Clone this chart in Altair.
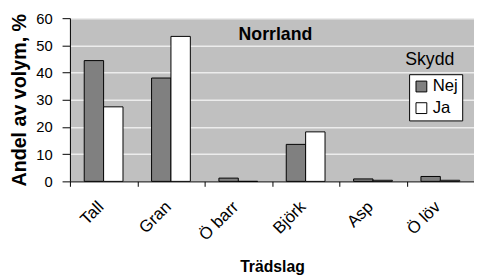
import altair as alt
import pandas as pd

categories = ["Tall", "Gran", "Ö barr", "Björk", "Asp", "Ö löv"]
nej = [44.4, 38.0, 1.2, 13.6, 0.9, 1.8]
ja = [27.4, 53.3, 0.0, 18.2, 0.4, 0.4]
groups = ["Nej", "Ja"]

rows = []
for c, a, b in zip(categories, nej, ja):
    rows.append({"Trädslag": c, "Skydd": "Nej", "v": a})
    rows.append({"Trädslag": c, "Skydd": "Ja", "v": b})
df = pd.DataFrame(rows)

FONT = "Liberation Sans, Arial, sans-serif"

bars = alt.Chart(df).mark_bar(stroke="black", strokeWidth=1).encode(
    x=alt.X("Trädslag:N", sort=categories,
            scale=alt.Scale(paddingInner=0, paddingOuter=0),
            axis=alt.Axis(title="Trädslag", labelAngle=-45, labelAlign="right",
                          labelBaseline="middle", labelFontSize=17, labelFont=FONT,
                          labelColor="black", titleFont=FONT, titleFontSize=16,
                          titleFontWeight="bold", titleColor="black", titlePadding=16,
                          tickBand="extent", tickColor="black", tickSize=5,
                          domainColor="black", labelPadding=18, labelOffset=-3,
                          grid=False)),
    xOffset=alt.XOffset("Skydd:N", sort=groups,
                        scale=alt.Scale(paddingInner=0, paddingOuter=0.7375)),
    y=alt.Y("v:Q", scale=alt.Scale(domain=[0, 60]),
            axis=alt.Axis(title="Andel av volym, %", values=[0, 10, 20, 30, 40, 50, 60],
                          labelFontSize=15, labelFont=FONT, labelColor="black",
                          labelPadding=10,
                          titleFont=FONT, titleFontSize=20, titleFontWeight="bold",
                          titleColor="black", titlePadding=6,
                          tickColor="black", tickSize=8, domainColor="black",
                          gridColor="#ececec", gridWidth=1.5)),
    fill=alt.Fill("Skydd:N", sort=groups,
                  scale=alt.Scale(domain=groups, range=["#808080", "#ffffff"]),
                  legend=alt.Legend(title=None, orient="none", legendX=345, legendY=57,
                                    strokeColor="black", fillColor="white",
                                    padding=4, labelFont=FONT, labelFontSize=17,
                                    labelColor="black", symbolType="square",
                                    symbolSize=121, symbolStrokeColor="black",
                                    symbolStrokeWidth=1, rowPadding=4, labelOffset=3)),
)

title_txt = alt.Chart(pd.DataFrame({"t": ["Norrland"]})).mark_text(
    font=FONT, fontSize=18, fontWeight="bold", color="black", baseline="middle"
).encode(text="t:N", x=alt.value(209), y=alt.value(17))

skydd_txt = alt.Chart(pd.DataFrame({"t": ["Skydd"]})).mark_text(
    font=FONT, fontSize=18, color="black", baseline="middle"
).encode(text="t:N", x=alt.value(366), y=alt.value(43))

chart = alt.layer(bars, title_txt, skydd_txt).properties(
    width=411, height=166,
    autosize=alt.AutoSizeParams(type="none"),
    padding={"left": 63, "top": 8, "right": 0, "bottom": 100},
).configure_view(fill="#c0c0c0", stroke=None)

chart.save("out.html", embed_options={"renderer": "svg", "actions": False})
